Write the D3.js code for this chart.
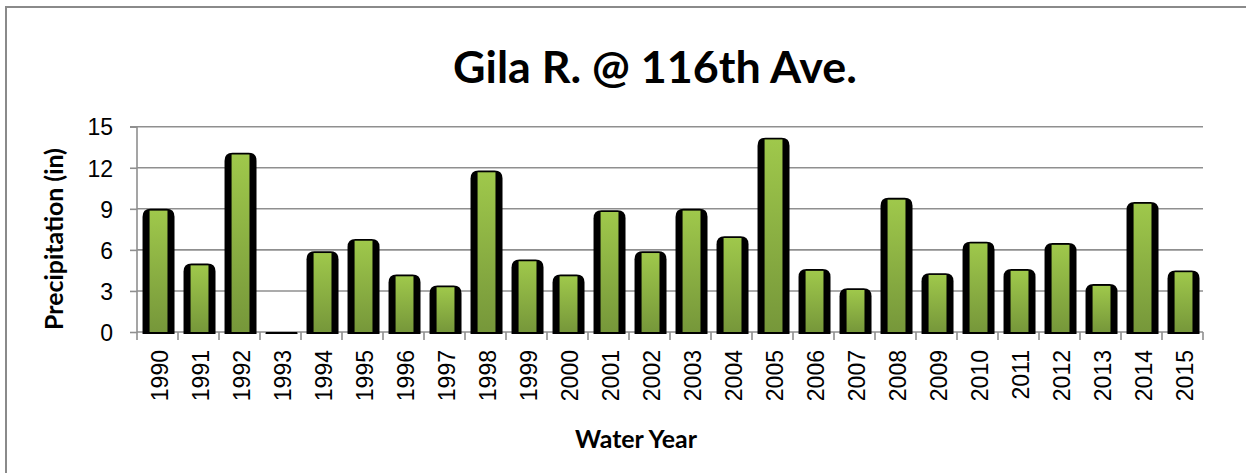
<!DOCTYPE html>
<html><head><meta charset="utf-8">
<script src="https://cdn.jsdelivr.net/npm/d3@7/dist/d3.min.js"></script>
<style>html,body{margin:0;padding:0;background:#fff;}svg{display:block;}</style>
</head><body>
<script>
const years = ["1990","1991","1992","1993","1994","1995","1996","1997","1998","1999","2000","2001","2002","2003","2004","2005","2006","2007","2008","2009","2010","2011","2012","2013","2014","2015"];
const precip = [9.0,5.0,13.1,0.0,5.9,6.8,4.2,3.4,11.8,5.3,4.2,8.9,5.9,9.0,7.0,14.2,4.6,3.2,9.8,4.3,6.6,4.6,6.5,3.5,9.5,4.5];
const yTicks = [0,3,6,9,12,15];
const titleText = "Gila R. @ 116th Ave.";
const yTitle = "Precipitation (in)";
const xTitle = "Water Year";

const W = 1246, H = 473;
const m = {left:137, right:1203, top:126.7, bottom:332};
const svg = d3.select("body").append("svg").attr("width",W).attr("height",H);

const defs = svg.append("defs");
const grad = defs.append("linearGradient").attr("id","g").attr("x1",0).attr("y1",0).attr("x2",0).attr("y2",1);
grad.append("stop").attr("offset","0%").attr("stop-color","#9fc84b");
grad.append("stop").attr("offset","100%").attr("stop-color","#76973a");

// frame
svg.append("rect").attr("x",6).attr("y",7).attr("width",1400).attr("height",600)
  .attr("fill","none").attr("stroke","#8a8a8a").attr("stroke-width",2);

const x = d3.scaleBand().domain(years).range([m.left,m.right]).padding(0);
const y = d3.scaleLinear().domain([0,15]).range([m.bottom,m.top]);
const step = x.step();

// gridlines
svg.append("g").selectAll("line").data(yTicks.filter(d=>d>0)).join("line")
  .attr("x1",m.left).attr("x2",m.right).attr("y1",d=>y(d)).attr("y2",d=>y(d))
  .attr("stroke","#8f8f8f").attr("stroke-width",1.6);

// y axis
const yAxis = d3.axisLeft(y).tickValues(yTicks).tickSize(7).tickPadding(17);
const gy = svg.append("g").attr("transform",`translate(${m.left},0)`).call(yAxis);
gy.select(".domain").attr("stroke","#8f8f8f").attr("stroke-width",1.6).attr("d",`M-7,${m.top}H0V${m.bottom}`);
gy.selectAll(".tick line").attr("stroke","#8f8f8f").attr("stroke-width",1.6);
gy.selectAll(".tick text").attr("font-family","'Liberation Sans',Arial,sans-serif").attr("font-size",23).attr("fill","#000").attr("dy","0.36em");

// x axis
const gx = svg.append("g").attr("transform",`translate(0,${m.bottom})`);
gx.append("line").attr("x1",m.left).attr("x2",m.right).attr("y1",0).attr("y2",0).attr("stroke","#8f8f8f").attr("stroke-width",1.6);
gx.selectAll("line.tk").data(years.concat(["end"])).join("line").attr("class","tk")
  .attr("x1",d=>d==="end"?m.right:x(d)).attr("x2",d=>d==="end"?m.right:x(d))
  .attr("y1",0).attr("y2",8).attr("stroke","#8f8f8f").attr("stroke-width",1.6);
gx.selectAll("text").data(years).join("text")
  .attr("transform",d=>`translate(${x(d)+step/2+2},18) rotate(-90)`)
  .attr("text-anchor","end").attr("dy","0.36em")
  .attr("font-family","'Liberation Sans',Arial,sans-serif").attr("font-size",23).attr("fill","#000")
  .text(d=>d);

// bars
const bw = step*0.78, bo = step*0.135;
const bars = svg.append("g").selectAll("g").data(years.map((d,i)=>({year:d,v:precip[i]}))).join("g");
bars.each(function(d){
  const g = d3.select(this);
  const x0 = x(d.year)+bo, x1 = x0+bw;
  const top = y(d.v), bot = m.bottom+2;
  const h = bot-top;
  const r = Math.min(8, h/2, bw/2);
  g.append("path").attr("fill","#000")
    .attr("d",`M${x0},${bot}V${top+r}Q${x0},${top} ${x0+r},${top}H${x1-r}Q${x1},${top} ${x1},${top+r}V${bot}Z`);
  const ih = m.bottom - (top+1.8);
  if (ih > 0.5) {
    g.append("rect").attr("x",x0+bw*0.22).attr("width",bw*0.56)
      .attr("y",top+1.8).attr("height",ih).attr("fill","url(#g)");
  }
});

// title helper fitting width
function fitText(sel, target){
  const n = sel.node();
  const len = n.getComputedTextLength();
  const fs = parseFloat(sel.attr("font-size"));
  sel.attr("font-size", fs*target/len);
}
const t = svg.append("text").attr("x",655).attr("y",83).attr("text-anchor","middle")
  .attr("font-family","Lato,'Open Sans',sans-serif").attr("font-weight",700).attr("font-size",40).attr("fill","#000").text(titleText);
fitText(t,404);

const yt = svg.append("text").attr("transform",`translate(63,239) rotate(-90)`).attr("text-anchor","middle")
  .attr("font-family","Lato,'Open Sans',sans-serif").attr("font-weight",700).attr("font-size",22).attr("fill","#000").text(yTitle);
fitText(yt,182);

const xt = svg.append("text").attr("x",636).attr("y",448).attr("text-anchor","middle")
  .attr("font-family","Lato,'Open Sans',sans-serif").attr("font-weight",700).attr("font-size",22).attr("fill","#000").text(xTitle);
fitText(xt,122);
</script>
</body></html>
